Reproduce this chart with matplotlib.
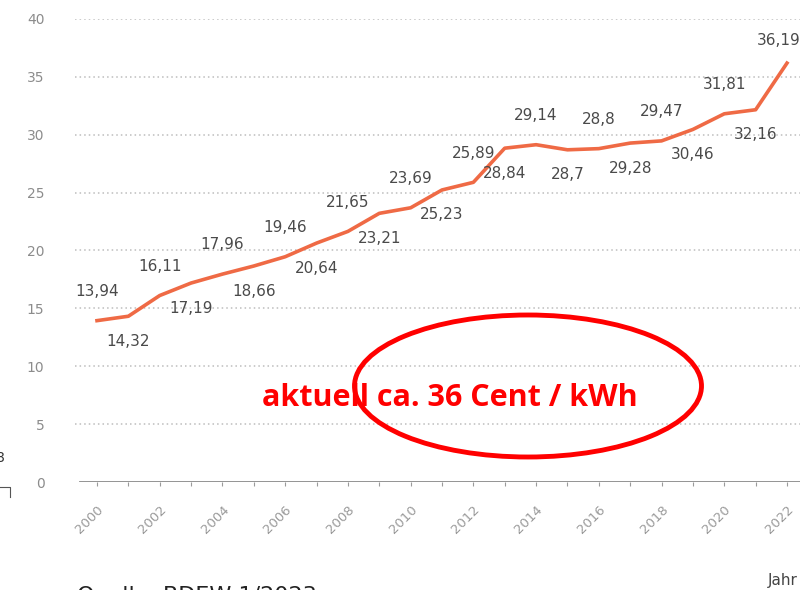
import matplotlib.pyplot as plt
from matplotlib.patches import Ellipse
from matplotlib.lines import Line2D

# Strompreis (Cent/kWh) je Jahr
years = list(range(2000, 2023))
prices = [13.94, 14.32, 16.11, 17.19, 17.96, 18.66, 19.46, 20.64, 21.65, 23.21,
          23.69, 25.23, 25.89, 28.84, 29.14, 28.7, 28.8, 29.28, 29.47, 30.46,
          31.81, 32.16, 36.19]
labels = [f'{p:g}'.replace('.', ',') for p in prices]
yticks = [0, 5, 10, 15, 20, 25, 30, 35, 40]
xlabels = [str(y) if y % 2 == 0 else '' for y in years]

W, H = 802, 590
fig = plt.figure(figsize=(W / 100, H / 100), dpi=100)
ax = fig.add_axes([75 / W, (H - 482) / H, 725 / W, 463 / H])

px_per_year = 690 / 22
ax.set_xlim(2000 - 22 / px_per_year, 2022 + 13 / px_per_year)
ax.set_ylim(0, 40)

for s in ax.spines.values():
    s.set_visible(False)

for yv in yticks[1:]:
    ax.axhline(yv, color='#bdbdbd', lw=1.1, ls=(0, (1, 2)), zorder=1)
ax.axhline(0, xmin=5 / 725, color='#8a8a8a', lw=2, zorder=2)

ax.plot(years, prices, color='#ef6a45', lw=2.6, solid_joinstyle='round', zorder=3)

for i, (x, y, t) in enumerate(zip(years, prices, labels)):
    dy = 21 if i % 2 == 0 else -18
    dx = -6 if i == len(years) - 1 else 0
    if i == len(years) - 1:
        dy = 16
    ax.annotate(t, (x, y), xytext=(dx, dy), textcoords='offset points',
                ha='center', va='center', fontsize=11, color='#4a4a4a',
                annotation_clip=False, zorder=4)

ax.set_yticks(yticks)
ax.set_yticklabels([str(v) for v in yticks])
ax.tick_params(axis='y', length=0, pad=22, labelsize=10, labelcolor='#8c8c8c')
ax.set_xticks(years)
ax.set_xticklabels(xlabels, rotation=45, ha='right', rotation_mode='anchor')
ax.tick_params(axis='x', length=3, width=0.8, color='#9a9a9a', pad=12,
               labelsize=9.5, labelcolor='#9a9a9a')

fig.text(798 / W, 1 - 580 / H, 'Jahr', ha='right', va='center', fontsize=11,
         color='#444444')

# Hinweis mit rotem Oval
fig.text(262 / W, 1 - 398 / H, 'aktuell ca. 36 Cent / kWh', ha='left', va='center',
         fontsize=22, fontweight='bold', color='#ff0000', family='Open Sans')
fig.add_artist(Ellipse((528 / W, 1 - 386 / H), 347 / W, 142 / H,
                       transform=fig.transFigure, fill=False, ec='#ff0000', lw=3.5))

# Reste der Folie am Rand
fig.text(77 / W, 1 - 586 / H, 'Quelle: BDEW 1/2023', ha='left', va='top',
         fontsize=16, color='#222222')
fig.text(-4 / W, 1 - 458 / H, '8', ha='left', va='center', fontsize=10,
         color='#333333')
fig.add_artist(Line2D([0, 10 / W, 10 / W], [1 - 487 / H, 1 - 487 / H, 1 - 497 / H],
                      transform=fig.transFigure, color='#555555', lw=0.8))

plt.savefig('out.png', dpi=100)
